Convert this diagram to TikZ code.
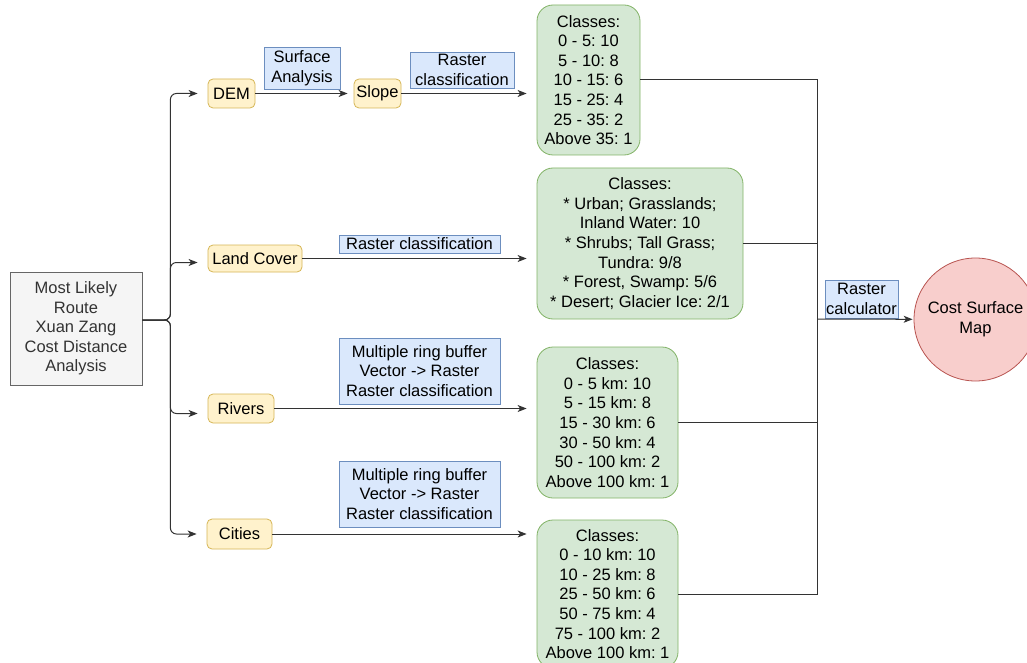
\documentclass[tikz,border=0pt]{standalone}
\usepackage{fontspec}
\setmainfont{Liberation Sans}
\usetikzlibrary{arrows.meta}
\frenchspacing
\definecolor{yfill}{HTML}{FFF2CC}
\definecolor{ydraw}{HTML}{D6B656}
\definecolor{bfill}{HTML}{DAE8FC}
\definecolor{bdraw}{HTML}{6C8EBF}
\definecolor{gfill}{HTML}{D5E8D4}
\definecolor{gdraw}{HTML}{82B366}
\definecolor{rfill}{HTML}{F8CECC}
\definecolor{rdraw}{HTML}{B85450}
\definecolor{mfill}{HTML}{F5F5F5}
\definecolor{mdraw}{HTML}{666666}
\definecolor{lncol}{HTML}{333333}
\begin{document}
\frenchspacing
\begin{tikzpicture}[x=1pt,y=-1pt,
 every node/.style={font=\fontsize{16.5}{19.6}\selectfont\frenchspacing, align=center, inner sep=0pt},
 mainbox/.style={draw=mdraw, fill=mfill, text=lncol, line width=0.8pt},
 ybox/.style={draw=ydraw, fill=yfill, rounded corners=5pt, line width=0.8pt},
 lbl/.style={draw=bdraw, fill=bfill, line width=0.8pt},
 gbox/.style={draw=gdraw, fill=gfill, rounded corners=16pt, line width=0.8pt},
 conn/.style={draw=lncol, line width=1pt},
 arr/.style={conn, -{Stealth[length=9pt,width=7pt,inset=2.5pt]}},
]
\path[use as bounding box, clip] (0,0) rectangle (1027,663);
\fill[white] (0,0) rectangle (1027,663);

% main
\node[mainbox, minimum width=132pt, minimum height=113pt] (main) at (76,328.5)
  {Most Likely\\Route\\Xuan Zang\\Cost Distance\\Analysis};

% inputs
\node[ybox, minimum width=47pt, minimum height=29pt] (dem) at (231.5,93.5) {DEM};
\node[ybox, minimum width=47pt, minimum height=29pt] (slope) at (377.5,93.5) {Slope};
\node[ybox, minimum width=94pt, minimum height=27pt] (lc) at (255,258.5) {Land Cover};
\node[ybox, minimum width=66pt, minimum height=29pt] (rivers) at (241,408.5) {Rivers};
\node[ybox, minimum width=65pt, minimum height=30pt] (cities) at (239.5,534) {Cities};

% labels
\node[lbl, minimum width=76pt, minimum height=42pt] (sa) at (302,68) {Surface\\Analysis};
\node[lbl, minimum width=104pt, minimum height=36pt] (rc1) at (462,70) {Raster\\classification};
\node[lbl, minimum width=161pt, minimum height=18pt] (rc2) at (419.5,244) {Raster classification};
\node[lbl, minimum width=161pt, minimum height=66pt] (mrb1) at (419.5,371) {Multiple ring buffer\\Vector -> Raster\\Raster classification};
\node[lbl, minimum width=161pt, minimum height=66pt] (mrb2) at (419.5,494) {Multiple ring buffer\\Vector -> Raster\\Raster classification};
\node[lbl, minimum width=73pt, minimum height=38pt] (rcalc) at (861.5,299) {Raster\\calculator};

% class boxes
\node[gbox, minimum width=103pt, minimum height=150pt] (g1) at (588.5,80)
  {Classes:\\0 - 5: 10\\5 - 10: 8\\10 - 15: 6\\15 - 25: 4\\25 - 35: 2\\Above 35: 1};
\node[gbox, minimum width=206pt, minimum height=151pt] (g2) at (640,243.5)
  {Classes:\\* Urban; Grasslands;\\Inland Water: 10\\* Shrubs; Tall Grass;\\Tundra: 9/8\\* Forest, Swamp: 5/6\\* Desert; Glacier Ice: 2/1};
\node[gbox, minimum width=141pt, minimum height=151pt] (g3) at (607.5,422.5)
  {Classes:\\0 - 5 km: 10\\5 - 15 km: 8\\15 - 30 km: 6\\30 - 50 km: 4\\50 - 100 km: 2\\Above 100 km: 1};
\node[gbox, minimum width=141pt, minimum height=148pt] (g4) at (607.5,594)
  {Classes:\\0 - 10 km: 10\\10 - 25 km: 8\\25 - 50 km: 6\\50 - 75 km: 4\\75 - 100 km: 2\\Above 100 km: 1};

% result
\node[circle, draw=rdraw, fill=rfill, line width=0.8pt, minimum size=123pt] (cs) at (975.5,319.5) {Cost Surface\\Map};

% connectors from main
\coordinate (split) at ([yshift=8.5pt]main.east);
\draw[arr, rounded corners=6pt, shorten >=10pt] (split) -- ++(28,0) |- (dem.west);
\draw[arr, rounded corners=6pt, shorten >=10pt] (split) -- ++(28,0) |- ([yshift=-4pt]lc.west);
\draw[arr, rounded corners=6pt, shorten >=10pt] (split) -- ++(28,0) |- ([yshift=-5pt]rivers.west);
\draw[arr, rounded corners=6pt, shorten >=10pt] (split) -- ++(28,0) |- (cities.west);

% processing arrows
\draw[arr, shorten >=6pt] (dem) -- (slope);
\draw[arr, shorten >=10pt] (slope.east) -- (slope.east -| g1.west);
\draw[arr, shorten >=10pt] (lc.east) -- (lc.east -| g2.west);
\draw[arr, shorten >=10pt] (rivers.east) -- (rivers.east -| g3.west);
\draw[arr, shorten >=10pt] (cities.east) -- (cities.east -| g4.west);

% merge
\coordinate (bus) at (817,319);
\draw[conn] (g1.east) -| (bus);
\draw[conn] (g2.east) -| (bus);
\draw[conn] (g3.east) -| (bus);
\draw[conn] (g4.east) -| (bus);
\draw[arr, shorten >=1pt] (bus) -- (cs);
\end{tikzpicture}
\end{document}
